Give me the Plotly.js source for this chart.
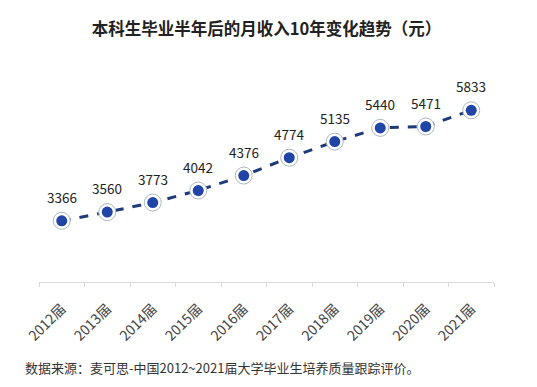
<!DOCTYPE html>
<html><head><meta charset="utf-8">
<script src="https://cdn.plot.ly/plotly-3.0.1.min.js"></script>
<style>html,body{margin:0;padding:0;background:#fff;}#chart{width:537px;height:387px;}</style>
</head><body><div id="chart"></div>
<script>
const categories = ["2012届","2013届","2014届","2015届","2016届","2017届","2018届","2019届","2020届","2021届"];
const income = [3366,3560,3773,4042,4376,4774,5135,5440,5471,5833];
const titleText = "本科生毕业半年后的月收入10年变化趋势（元）";
const sourceText = "数据来源：麦可思-中国2012~2021届大学毕业生培养质量跟踪评价。";

const font = "'Noto Sans CJK SC','Noto Sans',sans-serif";
const traces = [
  {x: categories, y: income, mode: 'lines', line: {color: '#1f3a78', width: 3, dash: 'dash'}, hoverinfo: 'skip'},
  {x: categories, y: income, mode: 'markers', marker: {size: 17, color: '#ffffff', line: {color: '#a9b9c0', width: 1}}, hoverinfo: 'skip'},
  {x: categories, y: income, mode: 'markers', marker: {size: 11, color: '#2045a6', line: {width: 0}}}
];
const annotations = categories.map((c, i) => ({
  x: c, y: income[i], xref: 'x', yref: 'y', text: String(income[i]), showarrow: false,
  yshift: 24, font: {family: font, size: 13.5, color: '#222'}
}));
annotations.push({xref: 'paper', yref: 'paper', x: -0.035, y: -0.38, xanchor: 'left', yanchor: 'middle',
  text: sourceText, showarrow: false, font: {family: font, size: 13, color: '#333'}});

const layout = {
  width: 537, height: 387,
  margin: {l: 39, r: 43, t: 58, b: 105},
  paper_bgcolor: '#fff', plot_bgcolor: '#fff',
  showlegend: false,
  title: {text: titleText, x: 0.5, xref: 'paper', y: 0.925, yanchor: 'middle',
    font: {family: font, size: 16.5, color: '#222', weight: 'bold'}},
  xaxis: {type: 'category', range: [-0.5, 9.5], showline: true, linecolor: '#d9d9d9', linewidth: 1,
    ticks: 'outside', tickson: 'boundaries', ticklen: 4, tickcolor: '#d9d9d9', showgrid: false,
    tickangle: -45, ticklabelstandoff: 12, tickfont: {family: font, size: 14, color: '#444'}, zeroline: false},
  yaxis: {range: [2000, 7000], visible: false, showgrid: false, zeroline: false},
  annotations: annotations
};
Plotly.newPlot('chart', traces, layout, {displayModeBar: false, staticPlot: true});
</script></body></html>
